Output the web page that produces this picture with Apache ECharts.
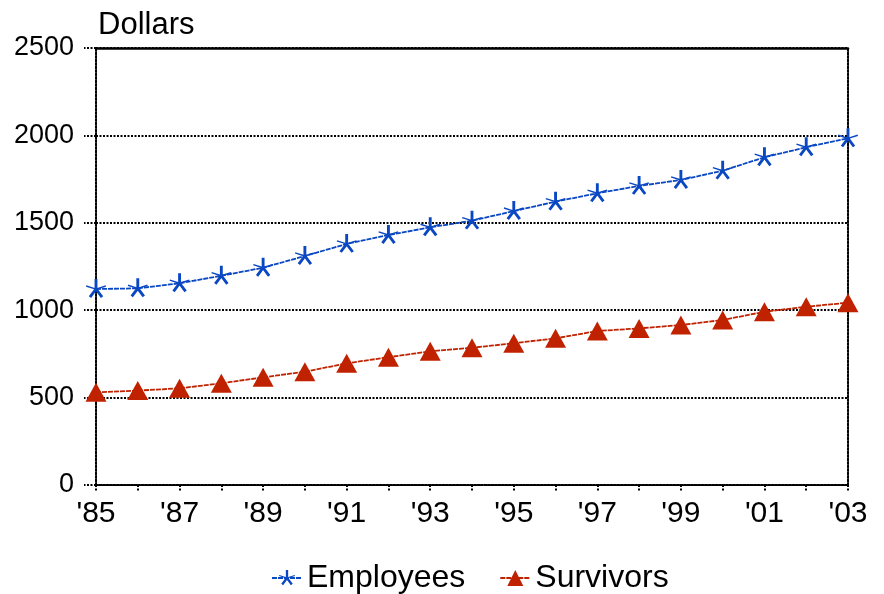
<!DOCTYPE html>
<html lang="en">
<head>
<meta charset="UTF-8">
<title>Dollars</title>
<script src="https://cdn.jsdelivr.net/npm/echarts@6/dist/echarts.min.js"></script>
<style>
    body{margin:0;background:#fff;}
    #main{width:884px;height:594px;}
</style>
</head>
<body>
<div id="main"></div>
<script>
// data
var years = ["'85","'86","'87","'88","'89","'90","'91","'92","'93","'94",
             "'95","'96","'97","'98","'99","'00","'01","'02","'03"];
var employees = [1121,1125,1154,1197,1243,1310,1379,1430,1474,1512,
                 1567,1621,1669,1711,1745,1798,1875,1932,1983];
var survivors = [530,540,553,582,616,648,696,731,765,785,
                 811,839,881,896,915,944,991,1020,1043];
var yMin = 0, yMax = 2500, yStep = 500;

var FONT = '"Liberation Sans", Arial, sans-serif';
var BLUE = '#0a47c2';
var RED = '#c02200';
var DOTS = [2, 1.5];

// 5-arm asterisk marker
function armRect(deg, len, w) {
    var t = deg * Math.PI / 180;
    var dx = Math.sin(t), dy = -Math.cos(t);
    var nx = Math.cos(t), ny = Math.sin(t);
    var h = w / 2, cx = 10, cy = 10;
    var p = [
        [cx + nx*h, cy + ny*h],
        [cx + nx*h + dx*len, cy + ny*h + dy*len],
        [cx - nx*h + dx*len, cy - ny*h + dy*len],
        [cx - nx*h, cy - ny*h]
    ];
    return 'M' + p.map(function (q) { return q[0].toFixed(2) + ' ' + q[1].toFixed(2); }).join(' L') + ' Z ';
}
var star = 'path://' + armRect(0, 10, 2.8) + armRect(72, 10, 1.4) + armRect(144, 10, 2.8) +
    armRect(216, 10, 2.8) + armRect(288, 10, 1.4) + 'M9.99 20 L10.01 20 L10.01 19.99 Z';

var myChart = echarts.init(document.getElementById('main'));

var option = {
    animation: false,
    textStyle: { fontFamily: FONT },
    title: {
        text: 'Dollars',
        left: 93,
        top: 5,
        textStyle: { fontFamily: FONT, fontSize: 31, fontWeight: 'normal', color: '#000' }
    },
    legend: {
        left: 266,
        top: 557,
        itemWidth: 30,
        itemHeight: 20,
        itemGap: 34,
        textStyle: { fontFamily: FONT, fontSize: 32, color: '#000' },
        data: ['Employees', 'Survivors']
    },
    grid: { left: 96, right: 36, top: 48, bottom: 109 },
    xAxis: [{
        type: 'category',
        data: years,
        boundaryGap: false,
        axisLine: { lineStyle: { color: '#000', width: 2, type: DOTS } },
        axisTick: { interval: 0, length: 7, lineStyle: { color: '#000', width: 2, type: DOTS } },
        axisLabel: { interval: 1, margin: 14, fontFamily: FONT, fontSize: 30, color: '#000' },
        splitLine: { show: false }
    }, {
        type: 'category',
        data: years,
        boundaryGap: false,
        position: 'top',
        z: 20,
        axisLine: { onZero: false, lineStyle: { color: '#000', width: 2.5 } },
        axisTick: { show: false },
        axisLabel: { show: false },
        splitLine: { show: false }
    }],
    yAxis: [{
        type: 'value',
        min: yMin,
        max: yMax,
        interval: yStep,
        axisLine: { show: true, lineStyle: { color: '#000', width: 2, type: DOTS } },
        axisTick: { show: true, length: 12, lineStyle: { color: '#000', width: 2, type: DOTS } },
        axisLabel: {
            margin: 22, fontFamily: FONT, fontSize: 27, color: '#000',
            formatter: function (v) { return String(v); }
        },
        splitLine: { show: true, lineStyle: { color: '#000', width: 2, type: DOTS } }
    }, {
        type: 'value',
        min: yMin,
        max: yMax,
        interval: yStep,
        position: 'right',
        axisLine: { show: true, onZero: false, lineStyle: { color: '#000', width: 2, type: DOTS } },
        axisTick: { show: false },
        axisLabel: { show: false },
        splitLine: { show: false }
    }],
    series: [{
        name: 'Employees',
        type: 'line',
        data: employees,
        symbol: star,
        symbolSize: 20,
        itemStyle: { color: BLUE },
        lineStyle: { color: BLUE, width: 1.8, type: [5, 1] }
    }, {
        name: 'Survivors',
        type: 'line',
        data: survivors,
        symbol: 'triangle',
        symbolSize: [21, 19],
        itemStyle: { color: RED },
        lineStyle: { color: RED, width: 1.8, type: [5, 1] }
    }]
};

myChart.setOption(option);
</script>
</body>
</html>
